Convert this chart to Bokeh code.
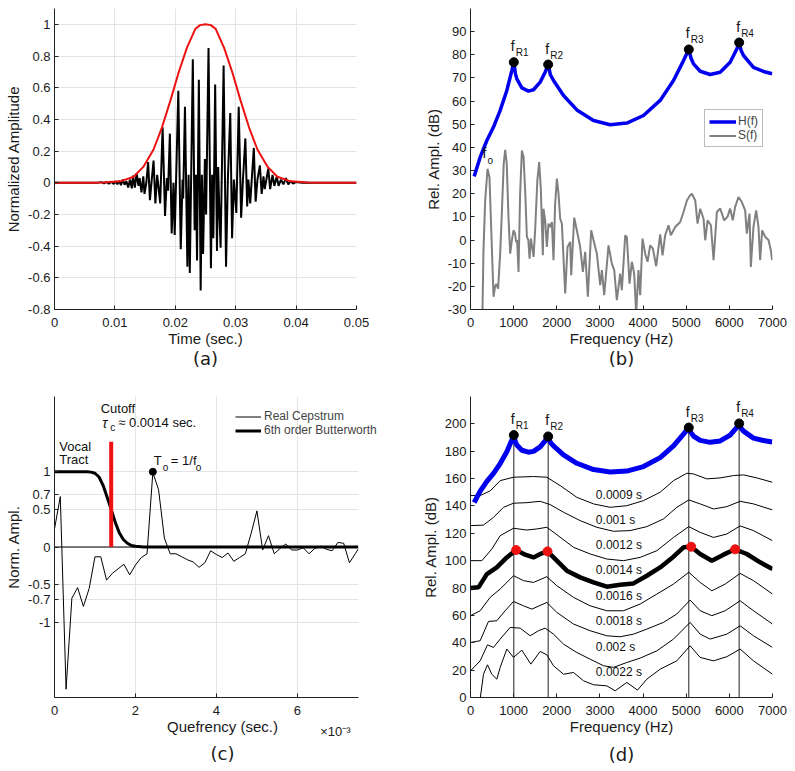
from bokeh.plotting import figure
from bokeh.layouts import column, row
from bokeh.models import Range1d, FixedTicker, Title, Legend, LegendItem, LinearAxis
from bokeh.core.properties import value
from bokeh.embed import file_html
from bokeh.resources import INLINE

FONT = "Liberation Sans"
TFONT = "DejaVu Sans"

# ---------------- (a) waveform ----------------
ENV_T = [0, 0.006, 0.008, 0.0109, 0.0131, 0.0147, 0.0164, 0.0178, 0.0192, 0.0205, 0.0219, 0.0233, 0.0241,
         0.025, 0.0259, 0.0267, 0.0281, 0.0295, 0.0308, 0.0322, 0.0336, 0.0353, 0.0369, 0.0391, 0.042, 0.044, 0.05]
ENV_V = [0, 0, 0.002, 0.009, 0.038, 0.10, 0.21, 0.35, 0.52, 0.69, 0.85, 0.97, 0.995,
         1.0, 0.995, 0.97, 0.85, 0.69, 0.52, 0.35, 0.21, 0.10, 0.038, 0.009, 0.002, 0, 0]

WAVE_T = [0.0, 0.0070, 0.0078, 0.0082, 0.0086, 0.0090, 0.0094, 0.0098, 0.0101, 0.0104, 0.0107, 0.0110,
          0.0113, 0.0116, 0.0119, 0.0122, 0.0125, 0.0128, 0.0130, 0.0133, 0.0136, 0.0139, 0.0141, 0.0144,
          0.0147, 0.0149, 0.0152, 0.0155, 0.0158, 0.0161, 0.0164, 0.0167, 0.0170, 0.0172, 0.0175, 0.0179,
          0.0183, 0.0186, 0.0188, 0.0191, 0.0194, 0.0197, 0.0199, 0.0205, 0.0209, 0.0212, 0.0213, 0.0216,
          0.0220, 0.0222, 0.0224, 0.0229, 0.0232, 0.0234, 0.0236, 0.0239, 0.0242, 0.0244, 0.0246, 0.0249,
          0.0251, 0.0255, 0.0259, 0.0261, 0.0263, 0.0266, 0.0269, 0.0271, 0.0273, 0.0275, 0.0280, 0.0284,
          0.0287, 0.0291, 0.0294, 0.0297, 0.0301, 0.0305, 0.0309, 0.0312, 0.0316, 0.0319, 0.0321, 0.0324,
          0.0330, 0.0333, 0.0336, 0.0340, 0.0343, 0.0346, 0.0348, 0.0354, 0.0357, 0.0361, 0.0364, 0.0368,
          0.0371, 0.0375, 0.0379, 0.0383, 0.0387, 0.0391, 0.0395, 0.0400, 0.0410, 0.0500]
WAVE_V = [0.0, 0.0, 0.004, -0.004, 0.005, -0.006, 0.007, -0.008, 0.010, -0.010, 0.012, -0.015,
          0.020, -0.012, 0.010, -0.030, 0.020, -0.035, 0.045, -0.030, 0.060, -0.020, 0.030, -0.060,
          0.040, -0.070, 0.000, 0.130, -0.110, 0.020, 0.140, -0.130, 0.050, -0.020, -0.130, 0.350,
          -0.210, 0.030, -0.050, 0.310, -0.320, 0.000, -0.330, 0.580, -0.420, 0.020, -0.100, 0.480,
          -0.530, 0.050, -0.570, 0.780, -0.300, 0.050, -0.490, 0.650, -0.680, 0.050, -0.450, 0.150,
          -0.200, 0.850, -0.540, 0.050, -0.350, 0.620, -0.430, 0.100, -0.200, -0.410, 0.740, -0.530,
          0.020, 0.440, -0.350, 0.020, -0.190, 0.480, -0.220, 0.020, 0.280, -0.150, 0.020, -0.130,
          0.220, -0.120, 0.020, 0.110, -0.070, 0.040, -0.040, 0.090, -0.040, 0.050, -0.020, 0.040,
          -0.020, 0.020, -0.010, 0.030, -0.010, 0.010, -0.005, 0.005, 0.0, 0.0]

A_XTICKS = [0, 0.01, 0.02, 0.03, 0.04, 0.05]
A_XLABELS = ["0", "0.01", "0.02", "0.03", "0.04", "0.05"]
A_YTICKS = [-0.8, -0.6, -0.4, -0.2, 0, 0.2, 0.4, 0.6, 0.8, 1]
A_YLABELS = ["-0.8", "-0.6", "-0.4", "-0.2", "0", "0.2", "0.4", "0.6", "0.8", "1"]

# ---------------- (b) spectra ----------------
H_F = [85, 224, 379, 533, 688, 842, 958, 1004, 1040, 1074, 1190, 1344, 1460, 1615, 1730, 1800, 1850, 1924,
       2156, 2465, 2851, 3237, 3623, 4010, 4396, 4705, 4937, 5060, 5110, 5169, 5323, 5555, 5787, 6018,
       6173, 6227, 6270, 6328, 6559, 6791, 6992]
H_DB = [27.5, 35.8, 43.0, 48.8, 56.0, 64.6, 73.2, 76.8, 72.0, 69.6, 65.7, 64.3, 64.9, 68.2, 72.5, 75.8, 71.5, 68.9,
        62.4, 56.2, 51.6, 49.8, 50.5, 53.8, 60.3, 68.9, 77.5, 82.3, 78.6, 76.1, 72.9, 71.5, 72.5, 76.8,
        82.5, 85.3, 82.0, 79.7, 74.6, 72.8, 71.8]

FR_F = [1004, 1800, 5060, 6227]
FR_DB = [76.8, 75.8, 82.3, 85.3]
FR_SUB = ["R1", "R2", "R3", "R4"]

S_F = [270, 300, 340, 395, 440, 480, 534, 570, 600, 640, 690, 727, 770, 804, 840, 880, 920, 960, 997, 1030,
       1060, 1080, 1113, 1150, 1191, 1230, 1270, 1307, 1340, 1369, 1400, 1430, 1462, 1500, 1550, 1592, 1630,
       1677, 1693, 1731, 1770, 1808, 1847, 1886, 1924, 1960, 2002, 2040, 2079, 2118, 2195, 2249, 2311, 2334,
       2404, 2465, 2542, 2604, 2658, 2720, 2798, 2851, 2929, 3006, 3045, 3099, 3199, 3276, 3331, 3392, 3470,
       3508, 3586, 3624, 3686, 3740, 3794, 3840, 3894, 3933, 3987, 4049, 4103, 4165, 4227, 4304, 4397, 4451,
       4513, 4590, 4644, 4745, 4861, 4938, 5016, 5080, 5132, 5209, 5263, 5325, 5402, 5441, 5495, 5572, 5634,
       5711, 5787, 5880, 5957, 6018, 6080, 6134, 6212, 6289, 6366, 6405, 6467, 6498, 6559, 6621, 6675, 6714,
       6760, 6830, 6907, 6961, 6992]
S_DB = [-40, -5, 17, 30.8, 27, 5, -24.5, -20, -19, -21, -5, 12, 33, 39, 33, 10, -5.9, 0, 4.2, 3,
        -1, 0, -13.8, 20, 38.7, 36, 20, 1.3, 0, -8, 0.6, -3, -7.3, 5, 26, 33.7, 22,
        -6.6, 13.5, 8.5, -3, 7.1, 5.6, 7.8, -8.7, 15, 26.5, 20, 9.2, 7.1, -23.1, -3, -0.8, -15.2,
        9.7, 4.2, -3, -13.8, -5.1, -24.5, 4.2, 0, -5.9, -19.5, -13, -23.8, -2.3, -10.2, -13, -26, -14.5,
        -21.7, 2, 1.3, -18.8, -9.4, -14.5, -31.7, -13, -23.8, 0.6, -5.9, -9.4, -2.3, -3.7, -11.3, 2.5, -6.6,
        2.1, 6.4, 2.1, 5.6, 7.8, 12.1, 17.1, 19, 20, 17.1, 7.1, 13.5, 9.2, -0.1, 8.5, 6.4, -8.7,
        12.1, 13.6, 8.5, 10, 13.6, 8.5, 14.3, 18.6, 16.4, 12.8, 2.8, 11.4, -11.6, 5.7, 12.8, 5.7, -8.7,
        4.2, 1.4, 0, -4.4, -8.7]
F0 = 395
F0_DB = 30.8

B_XTICKS = [0, 1000, 2000, 3000, 4000, 5000, 6000, 7000]
B_YTICKS = [-30, -20, -10, 0, 10, 20, 30, 40, 50, 60, 70, 80, 90]

# ---------------- (c) cepstrum ----------------
CEP_T = [0, 0.000143, 0.000286, 0.000429, 0.000571, 0.000714, 0.000857, 0.001, 0.001143, 0.001286,
         0.001429, 0.001571, 0.001714, 0.001857, 0.002, 0.002143, 0.002286, 0.002429, 0.002571, 0.002714,
         0.002857, 0.003, 0.003143, 0.003286, 0.003429, 0.003571, 0.003714, 0.003857, 0.004, 0.004143,
         0.004286, 0.004429, 0.004571, 0.004714, 0.004857, 0.005, 0.005143, 0.005286, 0.005429, 0.005571,
         0.005714, 0.005857, 0.006, 0.006143, 0.006286, 0.006429, 0.006571, 0.006714, 0.006857, 0.007,
         0.007143, 0.007286, 0.007429, 0.0075]
CEP_V = [0.24, 0.67, -1.89, -0.68, -0.54, -0.79, -0.55, -0.13, -0.13, -0.44,
         -0.35, -0.29, -0.23, -0.37, -0.24, -0.14, -0.09, 0.99, 0.76, 0.12,
         -0.09, -0.09, -0.13, -0.17, -0.20, -0.27, -0.21, -0.05, -0.10, -0.14,
         -0.08, -0.19, -0.14, -0.09, 0.18, 0.48, -0.04, 0.15, -0.09, -0.02,
         0.04, -0.04, -0.04, -0.01, -0.09, -0.02, 0.01, -0.03, -0.05, 0.06,
         0.05, -0.21, -0.09, -0.03]
BW_T = [0, 0.0008, 0.0009, 0.001, 0.0011, 0.0012, 0.0013, 0.0014, 0.0015, 0.0016, 0.0017, 0.0018,
        0.0019, 0.002, 0.0022, 0.0075]
BW_V = [1, 1, 0.995, 0.98, 0.93, 0.82, 0.66, 0.5, 0.33, 0.19, 0.10, 0.05, 0.02, 0.01, 0, 0]
C_XEND = 0.0075
CUTOFF = 0.0014
CUTOFF_TOP = 1.4
T0 = 0.002429
T0_V = 1.0
C_SCALE_POS = 0.00694
C_SCALE_TEXT = "×10⁻³"

C_XTICKS = [0, 0.002, 0.004, 0.006]
C_XLABELS = ["0", "2", "4", "6"]
C_YTICKS = [-1, -0.7, -0.5, 0, 0.5, 0.7, 1]
C_YLABELS = ["-1", "-0.7", "-0.5", "0", "0.5", "0.7", "1"]

# ---------------- (d) liftered envelopes ----------------
H_OFFSET_D = 115
D_PEAK_F = [1058, 1785, 5115, 6134]
D_PEAK_V = [107.8, 106.8, 110.2, 108.3]

C0009_F = [0, 224, 456, 688, 997, 1460, 1769, 2078, 2465, 2851, 3237, 3623, 4010, 4396, 4705, 5014, 5169,
           5478, 5787, 6096, 6328, 6637, 7000]
C0009_V = [147.6, 147.6, 151, 158.5, 161, 161.5, 161, 154.9, 146.3, 141.5, 139, 140.2, 143.9, 150, 158.5,
           163.9, 163.4, 159.8, 160.5, 162.2, 162.7, 160.5, 157.3]
C0010_F = [0, 301, 533, 765, 997, 1306, 1615, 1847, 2156, 2542, 2928, 3314, 3700, 4087, 4473, 4782, 5060,
           5323, 5632, 5941, 6250, 6559, 7000]
C0010_V = [125.6, 126, 131.7, 139, 142, 142.4, 143.4, 141, 135.4, 129.3, 124.4, 121.5, 122, 124.9, 130.5,
           139, 144.4, 141.5, 137.8, 139.5, 143.4, 141.5, 137.1]
C0012_F = [0, 263, 494, 688, 997, 1306, 1537, 1769, 2001, 2387, 2774, 3160, 3546, 3932, 4319, 4705, 5060,
           5323, 5632, 5941, 6250, 6559, 7000]
C0012_V = [100, 100, 108.5, 118.3, 123.7, 122.4, 123.2, 124.4, 119, 109.8, 104.9, 101.2, 100, 102.4, 107.3,
           117, 124.9, 120.7, 117, 119.5, 125.4, 122, 114.6]
C0014_F = [0, 185, 379, 610, 842, 1058, 1267, 1460, 1653, 1785, 2001, 2233, 2542, 2851, 3160, 3469, 3778,
           4087, 4396, 4705, 4937, 5115, 5323, 5594, 5864, 6134, 6405, 6714, 7000]
C0014_V = [80, 80.5, 90.2, 95.1, 102.4, 107.8, 104.4, 102.4, 105.4, 106.8, 100, 92.7, 87.8, 84.1, 81,
           82.4, 83.4, 89, 95.1, 102.9, 109.8, 110.2, 104.9, 100, 104.4, 108.3, 104.9, 98.8, 93.9]
C0016_F = [0, 224, 456, 688, 997, 1229, 1460, 1769, 2001, 2387, 2774, 3160, 3546, 3932, 4319, 4705, 5060,
           5323, 5594, 5903, 6250, 6559, 7000]
C0016_V = [59.8, 63.4, 73.2, 79.3, 89, 85.4, 84.1, 88.3, 81.7, 73.2, 67, 63.4, 63.4, 68.3, 75.6, 82.9,
           91.5, 84.1, 78, 82.9, 90.7, 85.4, 75.6]
C0018_F = [0, 224, 417, 610, 803, 997, 1229, 1422, 1769, 2001, 2387, 2774, 3160, 3469, 3778, 4087, 4473,
           4782, 5091, 5323, 5594, 5903, 6250, 6559, 7000]
C0018_V = [40.2, 41.5, 55.6, 56.1, 63.4, 70.2, 67, 64.6, 69.5, 62.2, 53.7, 48.8, 45.1, 44.4, 46.3, 50,
           54.9, 61, 71.2, 63.4, 59.8, 63.4, 70.7, 63.4, 53.7]
C0020_F = [0, 224, 394, 533, 688, 919, 1151, 1383, 1576, 1731, 1924, 2156, 2465, 2774, 3083, 3314, 3623,
           3932, 4319, 4705, 5091, 5323, 5555, 5941, 6250, 6559, 7000]
C0020_V = [19.5, 26.8, 38.5, 36.6, 42.7, 51.2, 50.7, 45.1, 48.8, 50.7, 46.3, 39, 32.9, 28, 23.2, 22,
           25.6, 28.8, 34.1, 42.7, 54.9, 46.3, 42.7, 46.3, 52.4, 45.1, 36.6]
C0022_F = [200, 224, 301, 394, 494, 610, 688, 842, 997, 1190, 1399, 1615, 1769, 1924, 2156, 2387, 2619,
           2851, 3160, 3353, 3623, 3871, 4087, 4396, 4782, 5091, 5323, 5632, 5941, 6250, 6559, 7000]
C0022_V = [-8, -1, 17, 23.9, 17, 13.4, 22, 35.4, 29.3, 34.6, 24.4, 33.7, 31.2, 23.2, 17, 18.3, 12.2,
           9.3, 8.5, 4.9, 11, 5.4, 13.4, 20.7, 26.8, 37.8, 29.3, 26.8, 29.8, 35.4, 26.8, 17]
D_CURVES = [(C0009_F, C0009_V, "0.0009 s", 1), (C0010_F, C0010_V, "0.001 s", 1),
            (C0012_F, C0012_V, "0.0012 s", 1), (C0014_F, C0014_V, "0.0014 s", 4.5),
            (C0016_F, C0016_V, "0.0016 s", 1), (C0018_F, C0018_V, "0.0018 s", 1),
            (C0020_F, C0020_V, "0.002 s", 1), (C0022_F, C0022_V, "0.0022 s", 1)]
D_LABEL_Y = [148, 130, 111.5, 93.2, 74.4, 55.6, 37, 18.3]
D_LABEL_X = 2906
D_YTICKS = [0, 20, 40, 60, 80, 100, 120, 140, 160, 180, 200]


def make_fig(w, h, xr, yr, left, right, top, bottom):
    p = figure(width=w, height=h, x_range=Range1d(*xr), y_range=Range1d(*yr),
               output_backend="svg", toolbar_location=None,
               min_border_left=left, min_border_right=right, min_border_top=top, min_border_bottom=bottom)
    p.outline_line_color = None
    return p


def style(p, xt, xl, yt, yl, xlabel, ylabel, grid):
    p.xaxis.ticker = FixedTicker(ticks=xt)
    p.yaxis.ticker = FixedTicker(ticks=yt)
    p.xaxis.major_label_overrides = dict(zip(xt, xl))
    p.yaxis.major_label_overrides = dict(zip(yt, yl))
    p.xaxis.axis_label = xlabel
    p.yaxis.axis_label = ylabel
    for ax in (p.xaxis[0], p.yaxis[0]):
        ax.major_tick_in = 4
        ax.major_tick_out = 0
        ax.minor_tick_line_color = None
        ax.major_label_text_font = FONT
        ax.major_label_text_font_size = "13px"
        ax.major_label_text_color = "#1a1a1a"
        ax.axis_label_text_font = FONT
        ax.axis_label_text_font_size = "15px"
        ax.axis_label_text_font_style = "normal"
        ax.axis_label_text_color = "#1a1a1a"
        ax.axis_line_color = "#222222"
        ax.major_tick_line_color = "#222222"
    p.xaxis.major_label_standoff = 8
    p.xaxis.axis_label_standoff = 0
    p.yaxis.major_label_standoff = 4
    p.yaxis.axis_label_standoff = 3
    if grid:
        p.xgrid.ticker = FixedTicker(ticks=xt)
        p.ygrid.ticker = FixedTicker(ticks=yt)
        p.xgrid.grid_line_color = "#e4e4e4"
        p.ygrid.grid_line_color = "#e4e4e4"
    else:
        p.xgrid.grid_line_color = None
        p.ygrid.grid_line_color = None


def panel_title(p, text, standoff):
    t = Title(text=text, align="center", text_font=TFONT, text_font_size="18px",
              text_font_style="normal", text_color="#1a1a1a", standoff=standoff)
    p.add_layout(t, "below")


def flabel(p, xs, ys, subs, dy=-8):
    p.text(x=xs, y=ys, text=["f"] * len(xs), text_font=value(FONT), text_font_size="14px",
           text_align="center", text_baseline="bottom", x_offset=-1, y_offset=dy, text_color="#111111")
    p.text(x=xs, y=ys, text=subs, text_font=value(FONT), text_font_size="10px",
           text_align="left", text_baseline="bottom", x_offset=2, y_offset=dy + 4, text_color="#111111")


# ---------- panel a ----------
pa = make_fig(400, 385, (0, 0.05), (-0.8, 1.1), 54, 44, 8, 76)
style(pa, A_XTICKS, A_XLABELS, A_YTICKS, A_YLABELS, "Time (sec.)", "Normalized Amplitude", True)
panel_title(pa, "(a)", -8)
pa.line(WAVE_T, WAVE_V, line_color="black", line_width=2)
pa.line(ENV_T, ENV_V, line_color="#ee1111", line_width=2)

# ---------- panel b ----------
pb = make_fig(395, 385, (0, 7000), (-30, 100), 70, 23, 8, 76)
style(pb, B_XTICKS, [str(v) for v in B_XTICKS], B_YTICKS, [str(v) for v in B_YTICKS],
      "Frequency (Hz)", "Rel. Ampl. (dB)", False)
panel_title(pb, "(b)", -8)
rh = pb.line(H_F, H_DB, line_color="#0000ee", line_width=3.5)
rs = pb.line(S_F, S_DB, line_color="#808080", line_width=2)
pb.scatter(FR_F, FR_DB, size=9, color="black")
flabel(pb, FR_F, FR_DB, FR_SUB)
pb.text(x=[F0], y=[F0_DB], text=["f"], text_font=value(FONT), text_font_size="14px", text_align="center",
        text_baseline="bottom", x_offset=-3, y_offset=-8, text_color="#111111")
pb.text(x=[F0], y=[F0_DB], text=["o"], text_font=value(FONT), text_font_size="10px", text_align="left",
        text_baseline="bottom", x_offset=0, y_offset=-3, text_color="#111111")
leg_b = Legend(items=[LegendItem(label="H(f)", renderers=[rh]), LegendItem(label="S(f)", renderers=[rs])],
               location=(234, 162), border_line_color="#7a7a7a", border_line_width=1, padding=4, spacing=0,
               margin=0, glyph_width=27, glyph_height=11, label_height=11, label_standoff=2,
               label_text_font=FONT, label_text_font_size="12px", background_fill_color="white")
pb.add_layout(leg_b)

# ---------- panel c ----------
pc = make_fig(400, 386, (0, 0.0083), (-2, 2), 54, 10, 11, 74)
style(pc, C_XTICKS, C_XLABELS, C_YTICKS, C_YLABELS, "Quefrency (sec.)", "Norm. Ampl.", True)
pc.xaxis.bounds = (0, C_XEND)
if "cross_bounds" in pc.ygrid[0].properties():
    pc.ygrid[0].cross_bounds = (0, C_XEND)
ax2 = LinearAxis(ticker=FixedTicker(ticks=[C_SCALE_POS]), major_label_overrides={C_SCALE_POS: C_SCALE_TEXT},
                 axis_line_color=None, major_tick_line_color=None, minor_tick_line_color=None,
                 major_tick_in=0, major_tick_out=0, major_label_standoff=-14,
                 major_label_text_font=FONT, major_label_text_font_size="13px",
                 major_label_text_color="#1a1a1a")
pc.add_layout(ax2, "below")
panel_title(pc, "(c)", -1)
pc.segment(x0=[0], y0=[0], x1=[C_XEND], y1=[0], line_color="black", line_width=1)
rc = pc.line(CEP_T, CEP_V, line_color="black", line_width=1)
rbw = pc.line(BW_T, BW_V, line_color="black", line_width=3)
pc.segment(x0=[CUTOFF], y0=[0], x1=[CUTOFF], y1=[CUTOFF_TOP], line_color="#ee1111", line_width=4)
pc.scatter([T0], [T0_V], size=7, color="black")
tk = dict(text_font=value(FONT), text_color="#111111")
pc.text(x=[0.00114], y=[1.845], text=["Cutoff"], text_font_size="13px", text_baseline="middle", **tk)
pc.text(x=[0.00118], y=[1.65], text=["τ"], text_font_size="14px", text_font_style="italic",
        text_baseline="middle", **tk)
pc.text(x=[0.00118], y=[1.65], text=["c"], text_font_size="10px", text_baseline="middle",
        x_offset=8, y_offset=5, **tk)
pc.text(x=[0.00118], y=[1.65], text=["≈ 0.0014 sec."], text_font_size="13px", text_baseline="middle",
        x_offset=16, **tk)
pc.text(x=[0.000117, 0.000117], y=[1.33, 1.16], text=["Vocal", "Tract"], text_font_size="13px",
        text_baseline="middle", **tk)
pc.text(x=[T0], y=[T0_V], text=["T"], text_font_size="13px", text_baseline="middle",
        x_offset=1, y_offset=-11, **tk)
pc.text(x=[T0], y=[T0_V], text=["o"], text_font_size="10px", text_baseline="middle",
        x_offset=10, y_offset=-4, **tk)
pc.text(x=[T0], y=[T0_V], text=["= 1/f"], text_font_size="13px", text_baseline="middle",
        x_offset=18, y_offset=-11, **tk)
pc.text(x=[T0], y=[T0_V], text=["o"], text_font_size="10px", text_baseline="middle",
        x_offset=43, y_offset=-4, **tk)
leg_c = Legend(items=[LegendItem(label="Real Cepstrum", renderers=[rc]),
                      LegendItem(label="6th order Butterworth", renderers=[rbw])],
               location=(181, 260), border_line_color=None, background_fill_alpha=0, padding=0, spacing=0,
               margin=0, glyph_width=26, glyph_height=13, label_height=13, label_standoff=3,
               label_text_font=FONT, label_text_font_size="12px")
pc.add_layout(leg_c)

# ---------- panel d ----------
pd = make_fig(395, 386, (0, 7000), (0, 220), 70, 23, 11, 74)
style(pd, B_XTICKS, [str(v) for v in B_XTICKS], D_YTICKS, [str(v) for v in D_YTICKS],
      "Frequency (Hz)", "Rel. Ampl. (dB)", False)
panel_title(pd, "(d)", 8)
HD = [v + H_OFFSET_D for v in H_DB]
FRD = [v + H_OFFSET_D for v in FR_DB]
pd.segment(x0=FR_F, y0=[0] * len(FR_F), x1=FR_F, y1=FRD, line_color="#222222", line_width=1)
for cf, cv, lab, lw in D_CURVES:
    pd.line(cf, cv, line_color="black", line_width=lw)
pd.line(H_F, HD, line_color="#0000ee", line_width=5)
pd.scatter(FR_F, FRD, size=9, color="black")
pd.scatter(D_PEAK_F, D_PEAK_V, size=9, color="#ee1111")
flabel(pd, FR_F, FRD, FR_SUB)
pd.text(x=[D_LABEL_X] * len(D_CURVES), y=D_LABEL_Y, text=[c[2] for c in D_CURVES],
        text_font=value(FONT), text_font_size="12px", text_baseline="middle", text_color="#111111")

layout = column(row(pa, pb), row(pc, pd))
open("out.html", "w").write(file_html(layout, INLINE))
